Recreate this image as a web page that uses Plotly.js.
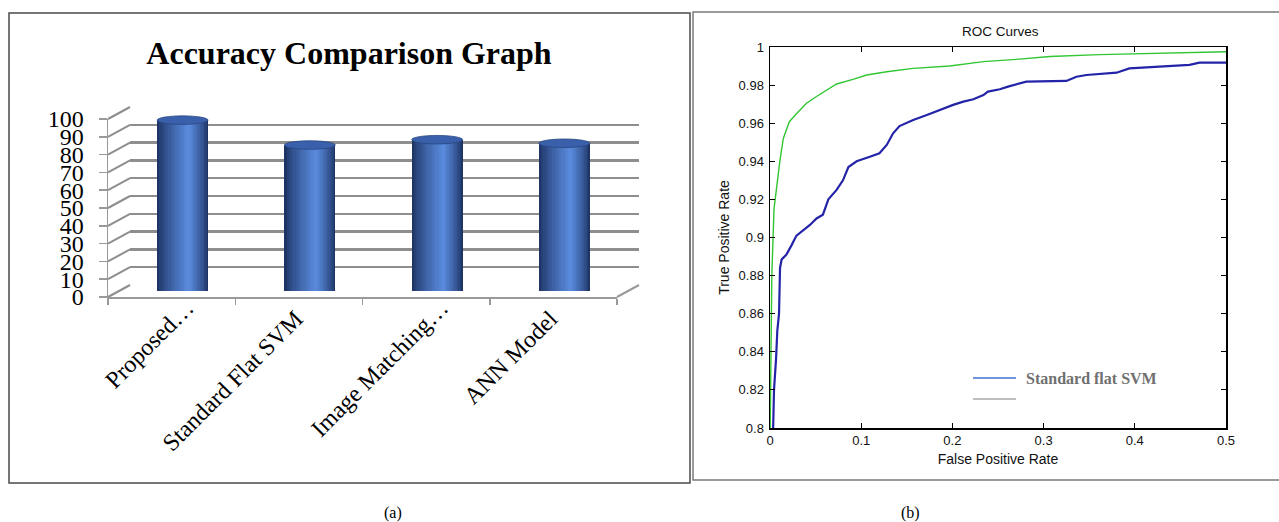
<!DOCTYPE html>
<html>
<head>
<meta charset="utf-8">
<script src="https://cdn.plot.ly/plotly-3.0.1.min.js"></script>
<style>html,body{margin:0;padding:0;background:#fff;}#chart{width:1279px;height:522px;}</style>
</head>
<body>
<div id="chart"></div>
<script>
// ---- data: accuracy comparison (panel a) ----
const categories = ["Proposed…", "Standard Flat SVM", "Image Matching…", "ANN Model"];
const accuracy = [96, 82, 85, 83];
const accTicks = [0, 10, 20, 30, 40, 50, 60, 70, 80, 90, 100];

// ---- data: ROC curves (panel b) ----
const svmFpr = [0.003,0.0036,0.0044,0.0066,0.008,0.0099,0.0102,0.011,0.0128,0.018,0.0237,0.029,0.0438,0.051,0.058,0.064,0.073,0.080,0.086,0.095,0.1095,0.120,0.128,0.135,0.142,0.157,0.172,0.186,0.2008,0.212,0.223,0.234,0.239,0.252,0.261,0.281,0.325,0.336,0.347,0.380,0.394,0.427,0.460,0.471,0.5];
const svmTpr = [0.79,0.80,0.82,0.836,0.851,0.86,0.8795,0.884,0.8885,0.891,0.896,0.901,0.9066,0.910,0.912,0.920,0.925,0.930,0.937,0.940,0.9424,0.9442,0.9486,0.9547,0.9585,0.9617,0.9643,0.967,0.9696,0.9713,0.9726,0.9748,0.9766,0.9778,0.9792,0.9818,0.9822,0.9844,0.9853,0.9865,0.9888,0.9897,0.9906,0.9918,0.9918];
const propFpr = [0,0.002,0.0044,0.008,0.011,0.0146,0.0212,0.029,0.040,0.051,0.062,0.073,0.091,0.106,0.128,0.157,0.197,0.234,0.270,0.307,0.361,0.416,0.5];
const propTpr = [0.79,0.88,0.915,0.930,0.9407,0.952,0.9608,0.965,0.9705,0.974,0.9774,0.9806,0.983,0.9853,0.987,0.9888,0.990,0.9923,0.9935,0.995,0.996,0.9967,0.9975];
const legendNames = ["Standard flat SVM", ""];

// ---- geometry helpers (pixels -> paper) ----
const W = 1279, H = 522;
const FX = p => p / W;
const FY = p => 1 - p / H;

// front plane of the 3D chart
const front = {x0: 108, x1: 617, y0: 297, y1: 119};
const depth = {dx: 22, dy: -12};
const back = {x0: front.x0 + depth.dx, x1: front.x1 + depth.dx, y0: front.y0 + depth.dy, y1: front.y1 + depth.dy};
const mid = {x0: front.x0 + depth.dx / 2, x1: front.x1 + depth.dx / 2, y0: front.y0 + depth.dy / 2, y1: front.y1 + depth.dy / 2};

const serif = "Liberation Serif, Times New Roman, serif";
const sans = "Liberation Sans, Arial, Helvetica, sans-serif";

const traces = [];
// invisible carriers so the front-plane, label and back-wall axes get drawn
['x', 'x5', 'x6'].forEach(ax => traces.push({type: 'scatter', mode: 'markers', x: categories, y: accuracy,
  xaxis: ax, yaxis: 'y', marker: {opacity: 0}, showlegend: false, hoverinfo: 'skip'}));
traces.push({type: 'scatter', mode: 'markers', x: categories, y: accuracy, xaxis: 'x2', yaxis: 'y2',
  marker: {opacity: 0}, showlegend: false, hoverinfo: 'skip'});

// cylinder bars built from nested overlay bars to give a shaded look
const BW = 0.4;
const N = 14;
const dark = [30, 52, 102], bright = [92, 142, 226];
for (let k = 0; k < N; k++) {
  const s = k / N;
  const left = s * 0.62, right = 1 - s * 0.38;
  const t = Math.pow(s, 0.8);
  const c = dark.map((d, i) => Math.round(d + (bright[i] - d) * t));
  traces.push({
    type: 'bar', x: categories, y: accuracy, xaxis: 'x3', yaxis: 'y3',
    width: BW * (right - left), offset: -BW / 2 + BW * left,
    marker: {color: `rgb(${c[0]},${c[1]},${c[2]})`, line: {width: 0}},
    showlegend: false, hoverinfo: 'skip'
  });
}

// ROC curves
traces.push({type: 'scatter', mode: 'lines', x: propFpr, y: propTpr, xaxis: 'x4', yaxis: 'y4',
  line: {color: '#33c633', width: 1.4}, showlegend: false, hoverinfo: 'skip'});
traces.push({type: 'scatter', mode: 'lines', x: svmFpr, y: svmTpr, xaxis: 'x4', yaxis: 'y4',
  line: {color: '#2424a8', width: 2.2}, showlegend: false, hoverinfo: 'skip'});

const shapes = [];
// panel borders
shapes.push({type: 'rect', xref: 'paper', yref: 'paper', x0: FX(9), x1: FX(690), y0: FY(13), y1: FY(483),
  line: {color: '#4a4a4a', width: 1.5}});
shapes.push({type: 'rect', xref: 'paper', yref: 'paper', x0: FX(693), x1: FX(1285), y0: FY(12), y1: FY(480),
  line: {color: '#7a7a7a', width: 1.5}});

// 3D wall: slanted connectors from the front axis to the back wall for each tick
accTicks.forEach(v => {
  const f = v / 100;
  shapes.push({type: 'line', xref: 'paper', yref: 'paper', layer: 'below',
    x0: FX(front.x0), y0: FY(front.y0 + f * (front.y1 - front.y0)),
    x1: FX(back.x0), y1: FY(back.y0 + f * (back.y1 - back.y0)),
    line: {color: '#8e8e8e', width: 2}});
});
// floor right edge
shapes.push({type: 'line', xref: 'paper', yref: 'paper', layer: 'below',
  x0: FX(front.x1), y0: FY(front.y0), x1: FX(back.x1), y1: FY(back.y0),
  line: {color: '#9a9a9a', width: 2}});

// cylinder caps (top and base ellipses) in the bar plane's data coordinates
const capH = 2.4;
categories.forEach((c, i) => {
  shapes.push({type: 'circle', xref: 'x3', yref: 'y3', layer: 'below',
    x0: i - BW / 2, x1: i + BW / 2, y0: -capH, y1: capH,
    fillcolor: 'rgb(62,104,182)', line: {width: 0}});
  shapes.push({type: 'circle', xref: 'x3', yref: 'y3', layer: 'above',
    x0: i - BW / 2, x1: i + BW / 2, y0: accuracy[i] - capH, y1: accuracy[i] + capH,
    fillcolor: 'rgb(58,96,172)', line: {color: 'rgb(40,70,130)', width: 0.8}});
});

// ROC legend lines
const legColors = ['#7094d8', '#a8a8a8'];
const legY = [378, 399];
legColors.forEach((col, i) => {
  shapes.push({type: 'line', xref: 'paper', yref: 'paper', x0: FX(973), x1: FX(1016), y0: FY(legY[i]), y1: FY(legY[i]),
    line: {color: col, width: i === 0 ? 2 : 1.5}});
});

const annotations = [
  {text: 'ROC Curves', xref: 'paper', yref: 'paper', x: FX(1000), y: FY(32), showarrow: false,
    font: {family: sans, size: 13.5, color: '#111'}, xanchor: 'center', yanchor: 'middle'},
  {text: '<b>' + legendNames[0] + '</b>', xref: 'paper', yref: 'paper', x: FX(1024), y: FY(378), showarrow: false,
    font: {family: serif, size: 16, color: '#707070'}, xanchor: 'left', yanchor: 'middle'},
  {text: '(a)', xref: 'paper', yref: 'paper', x: FX(393), y: FY(513), showarrow: false,
    font: {family: serif, size: 16, color: '#000'}, xanchor: 'center', yanchor: 'middle'},
  {text: '(b)', xref: 'paper', yref: 'paper', x: FX(910), y: FY(513), showarrow: false,
    font: {family: serif, size: 16, color: '#000'}, xanchor: 'center', yanchor: 'middle'}
];

const labelAxis = (vals, shift, standoff) => ({
  domain: [FX(front.x0), FX(front.x1)], anchor: 'y', overlaying: 'x', type: 'category', range: [-0.5, 3.5],
  tickmode: 'array', tickvals: vals, ticks: '', showline: false, showgrid: false, zeroline: false,
  tickangle: -45, ticklabelshift: shift, ticklabelstandoff: standoff,
  tickfont: {family: serif, size: 24, color: '#000'}, fixedrange: true
});

const layout = {
  width: W, height: H,
  margin: {l: 0, r: 0, t: 0, b: 0},
  paper_bgcolor: '#fff', plot_bgcolor: 'rgba(0,0,0,0)',
  showlegend: false,
  barmode: 'overlay', bargap: 0,
  title: {text: '<b>Accuracy Comparison Graph</b>', x: FX(349), y: FY(53), xanchor: 'center', yanchor: 'middle',
    font: {family: serif, size: 32, color: '#000'}},
  // front plane (axis line and boundary ticks)
  xaxis: {visible: true, domain: [FX(front.x0), FX(front.x1)], anchor: 'y', type: 'category', range: [-0.5, 3.5],
    tickson: 'boundaries', ticks: 'outside', ticklen: 6, tickcolor: '#999', tickwidth: 1.5,
    showline: true, linecolor: '#999', linewidth: 2, showgrid: false, showticklabels: false, fixedrange: true},
  // category labels (two label sets, Excel-style placement)
  xaxis5: labelAxis([categories[0], categories[2]], 15, -9),
  xaxis6: labelAxis([categories[1], categories[3]], -3, 2),
  yaxis: {visible: true, domain: [FY(front.y0), FY(front.y1)], anchor: 'x', range: [0, 100], tickvals: accTicks,
    ticks: 'outside', ticklen: 8, tickcolor: '#999', tickwidth: 1.5, ticklabelstandoff: 10,
    showline: true, linecolor: '#999', linewidth: 1.5, showgrid: false, zeroline: false,
    tickfont: {family: serif, size: 24, color: '#000'}, fixedrange: true},
  // back wall (gridlines)
  xaxis2: {visible: true, domain: [FX(back.x0), FX(back.x1)], anchor: 'y2', type: 'category', range: [-0.5, 3.5],
    showticklabels: false, showgrid: false, showline: false, ticks: '', fixedrange: true},
  yaxis2: {visible: true, domain: [FY(back.y0), FY(back.y1)], anchor: 'x2', range: [0, 100], tickvals: accTicks,
    showticklabels: false, showgrid: true, gridcolor: '#8e8e8e', gridwidth: 2.5, zeroline: false,
    showline: false, ticks: '', fixedrange: true},
  // bar plane
  xaxis3: {domain: [FX(mid.x0), FX(mid.x1)], anchor: 'y3', type: 'category', range: [-0.5, 3.5],
    showticklabels: false, showgrid: false, showline: false, ticks: '', fixedrange: true},
  yaxis3: {domain: [FY(mid.y0), FY(mid.y1)], anchor: 'x3', range: [0, 100],
    showticklabels: false, showgrid: false, zeroline: false, showline: false, ticks: '', fixedrange: true},
  // ROC axes
  xaxis4: {domain: [FX(770), FX(1226)], anchor: 'y4', range: [0, 0.5], dtick: 0.1,
    showline: true, mirror: 'ticks', linecolor: '#000', linewidth: 1.5, ticks: 'inside', ticklen: 5, tickcolor: '#000',
    showgrid: false, zeroline: false, tickfont: {family: sans, size: 13, color: '#111'},
    title: {text: 'False Positive Rate', standoff: 7, font: {family: sans, size: 14, color: '#111'}}, fixedrange: true},
  yaxis4: {domain: [FY(428), FY(47)], anchor: 'x4', range: [0.8, 1], dtick: 0.02,
    showline: true, mirror: 'ticks', linecolor: '#000', linewidth: 1.5, ticks: 'inside', ticklen: 5, tickcolor: '#000',
    showgrid: false, zeroline: false, tickfont: {family: sans, size: 13, color: '#111'}, ticklabelstandoff: 2,
    title: {text: 'True Positive Rate', standoff: 5, font: {family: sans, size: 14, color: '#111'}}, fixedrange: true},
  shapes: shapes,
  annotations: annotations
};

Plotly.newPlot('chart', traces, layout, {staticPlot: true, displayModeBar: false});
</script>
</body>
</html>
